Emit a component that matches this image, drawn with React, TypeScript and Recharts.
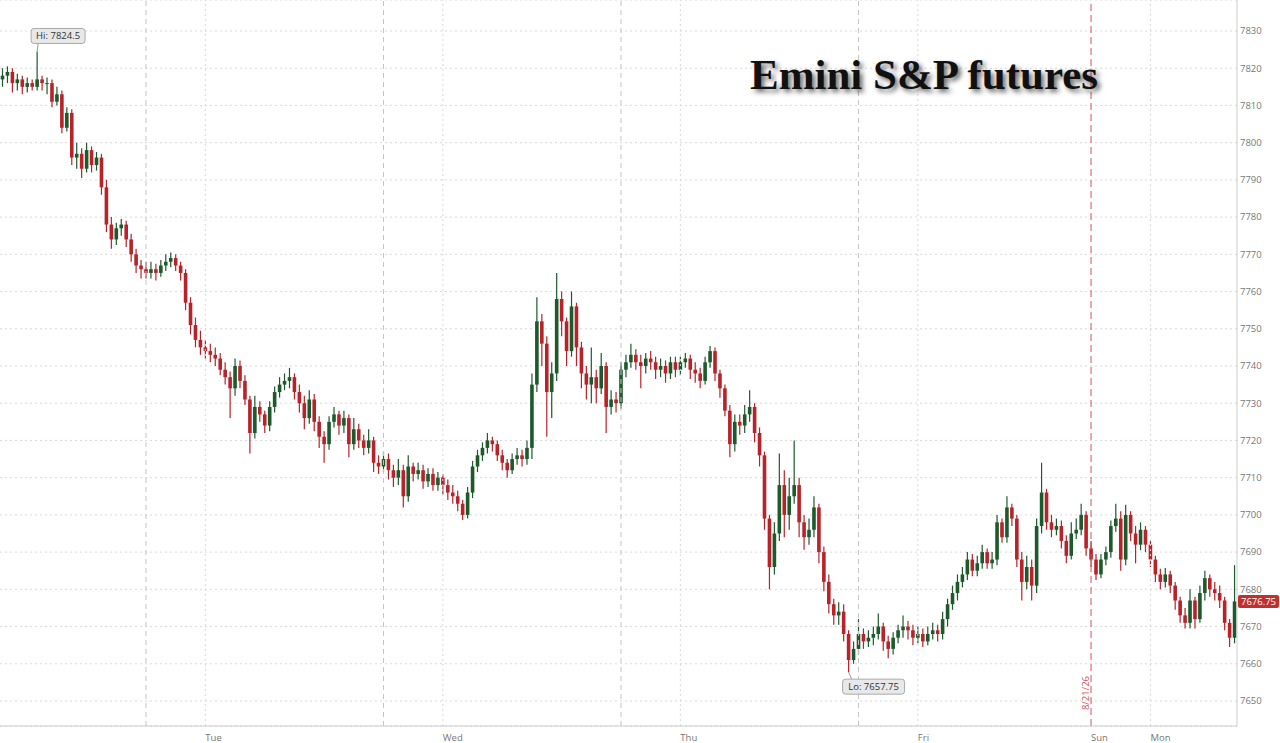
import {
  ComposedChart,
  Bar,
  CartesianGrid,
  ReferenceDot,
  ReferenceLine,
  XAxis,
  YAxis,
} from "recharts";

// 30-minute bars, Mon 03:30 through Mon after the weekend
const firstOpen = 7817;

const closes = [
  7818, 7819, 7816, 7817, 7815, 7816, 7815, 7817, 7816, 7816,
  7811, 7813, 7804, 7808, 7796, 7797, 7793, 7798, 7794, 7796,
  7788, 7778, 7774, 7777, 7778, 7774, 7770, 7767, 7766, 7765,
  7766, 7765, 7767, 7768, 7769, 7767, 7765, 7757, 7751, 7747,
  7745, 7744, 7743, 7742, 7739, 7737, 7734, 7740, 7736, 7731,
  7722, 7729, 7727, 7724, 7729, 7733, 7735, 7736, 7737, 7733,
  7730, 7726, 7731, 7725, 7721, 7719, 7725, 7727, 7724, 7726,
  7719, 7723, 7720, 7718, 7720, 7714, 7713, 7715, 7712, 7710,
  7712, 7705, 7713, 7711, 7712, 7709, 7711, 7708, 7710, 7708,
  7706, 7705, 7703, 7700, 7706, 7713, 7716, 7718, 7720, 7719,
  7716, 7714, 7712, 7715, 7716, 7715, 7718, 7735, 7752, 7746,
  7733, 7738, 7758, 7752, 7744, 7756, 7745, 7738, 7735, 7737,
  7734, 7740, 7729, 7731, 7730, 7739, 7741, 7743, 7741, 7740,
  7742, 7741, 7739, 7740, 7738, 7741, 7739, 7741, 7742, 7739,
  7738, 7736, 7741, 7744, 7738, 7734, 7728, 7719, 7725, 7724,
  7727, 7729, 7722, 7716, 7699, 7686, 7695, 7708, 7700, 7705,
  7708, 7698, 7694, 7696, 7702, 7690, 7682, 7676, 7673, 7674,
  7668, 7661, 7664, 7668, 7666, 7667, 7668, 7670, 7666, 7664,
  7667, 7669, 7670, 7669, 7667, 7668, 7666, 7668, 7669, 7668,
  7672, 7676, 7679, 7682, 7684, 7688, 7685, 7687, 7690, 7687,
  7688, 7698, 7694, 7702, 7699, 7688, 7682, 7686, 7681, 7697,
  7706, 7698, 7696, 7697, 7693, 7689, 7695, 7696, 7700, 7691,
  7688, 7684, 7688, 7690, 7697, 7699, 7688, 7700, 7695, 7692,
  7696, 7692, 7688, 7684, 7682, 7684, 7681, 7677, 7673, 7671,
  7677, 7672, 7679, 7683, 7680, 7679, 7677, 7671, 7667, 7676.75,
];

const highs = [
  7820, 7820.5, 7820, 7818.5, 7818, 7817.5, 7817, 7824.5, 7818, 7817.5,
  7817, 7815, 7814, 7809.5, 7809, 7800, 7798.5, 7800, 7799, 7797.5,
  7797, 7790, 7780, 7778.5, 7779.5, 7779, 7775.5, 7771.5, 7768.5, 7768,
  7768, 7767.5, 7768.5, 7770, 7770.5, 7770, 7768, 7766, 7758.5, 7753,
  7749.5, 7747, 7746, 7745, 7743.5, 7741, 7738.5, 7742, 7741.5, 7737.5,
  7732, 7732, 7730.5, 7728, 7730.5, 7734.5, 7737, 7738, 7739.5, 7738,
  7735, 7732, 7733.5, 7732.5, 7726.5, 7722.5, 7726.5, 7729, 7728, 7728,
  7727, 7726, 7724.5, 7721.5, 7723, 7721, 7716, 7717, 7716.5, 7713.5,
  7715, 7713.5, 7716, 7714, 7714, 7713.5, 7712.5, 7712.5, 7711.5, 7711,
  7709.5, 7708, 7706.5, 7704, 7707.5, 7714.5, 7717.5, 7719.5, 7722, 7721,
  7720, 7717.5, 7715, 7716.5, 7718, 7717.5, 7720, 7738, 7758.5, 7754,
  7748, 7741, 7765, 7760, 7753, 7760, 7757, 7746.5, 7740, 7745,
  7739, 7743.5, 7741, 7733.5, 7733, 7741, 7743, 7746, 7744.5, 7743,
  7743.5, 7744, 7742.5, 7742, 7741.5, 7742.5, 7742.5, 7742.5, 7743.5, 7743,
  7741, 7739.5, 7742.5, 7745.4, 7745, 7739, 7735, 7729.5, 7727, 7727,
  7729.5, 7733.5, 7730, 7723.5, 7717, 7700, 7698, 7716.5, 7712, 7710,
  7720, 7710, 7700, 7699, 7705, 7703, 7691.5, 7684, 7677.5, 7676.5,
  7676, 7669, 7666, 7672, 7669.5, 7669, 7670, 7673.5, 7671, 7667.5,
  7668.5, 7670.5, 7673, 7671.5, 7670.5, 7670, 7669.5, 7670, 7671, 7670.5,
  7674, 7677.5, 7681, 7684, 7686, 7690, 7689.5, 7689, 7692, 7691,
  7690, 7700, 7699, 7705, 7703, 7700, 7690, 7689, 7688, 7699,
  7714, 7707, 7700, 7699, 7698.5, 7694.5, 7698, 7699, 7703, 7701,
  7693, 7689.5, 7689.5, 7691.5, 7698.5, 7703, 7701, 7702.7, 7701, 7697,
  7698, 7697, 7693, 7689, 7685.5, 7685.7, 7685, 7682, 7678, 7675,
  7680, 7678, 7681, 7685, 7684, 7682, 7681, 7678, 7672, 7686.5,
];

const lows = [
  7815, 7816, 7813.5, 7814, 7813, 7813.5, 7814, 7814, 7814, 7813,
  7809.5, 7810, 7802.5, 7803, 7794, 7793, 7790.5, 7792, 7792, 7792.5,
  7786, 7776, 7771.5, 7772.5, 7775, 7772, 7768, 7765, 7763.5, 7763.5,
  7763.5, 7763, 7764, 7765.5, 7766.5, 7765.5, 7763, 7755, 7748.5, 7745,
  7743, 7742, 7741, 7740, 7737.5, 7735, 7726, 7732, 7734, 7729.5,
  7716.5, 7720.5, 7725, 7722, 7722.5, 7727.5, 7731.5, 7733.5, 7734, 7731,
  7727.5, 7723, 7724.5, 7722.5, 7718, 7714, 7717.5, 7723.5, 7721.5, 7722,
  7715.5, 7717.5, 7718, 7716, 7716.5, 7711.5, 7711, 7711.5, 7709.5, 7707.5,
  7708, 7702, 7703.5, 7709, 7709.5, 7707, 7707.5, 7706.5, 7706.5, 7705.5,
  7704, 7703, 7701, 7698.6, 7699, 7704.5, 7711.5, 7714.5, 7716.5, 7717,
  7714.5, 7712, 7710, 7711, 7713.5, 7713, 7713.5, 7715, 7733, 7740,
  7721, 7726, 7736, 7748, 7740, 7742.5, 7740, 7734, 7731, 7730,
  7730, 7732.5, 7722, 7727, 7727.5, 7728.5, 7737, 7739.5, 7739, 7734,
  7738, 7739, 7736.5, 7737, 7735.5, 7736.5, 7737, 7737.5, 7739.5, 7736.5,
  7735.5, 7734, 7735, 7739.5, 7736, 7731.5, 7726.5, 7715.5, 7717, 7721.5,
  7722, 7725, 7719.5, 7713, 7696, 7680, 7684, 7693, 7694, 7696,
  7703, 7694, 7690.6, 7692, 7694, 7687, 7679.5, 7673.5, 7670.5, 7670.5,
  7666, 7657.75, 7660, 7662.5, 7664, 7664.5, 7665, 7666.5, 7663.5, 7661.5,
  7662.5, 7665.5, 7667, 7666.5, 7665, 7665.5, 7664.5, 7665, 7666.5, 7666,
  7666.5, 7670, 7674.5, 7677, 7680.5, 7682.5, 7683.5, 7683.5, 7685.5, 7685.5,
  7685.5, 7686.5, 7692.5, 7692.5, 7697, 7686, 7677, 7680, 7677, 7679,
  7695, 7696, 7694, 7694.5, 7691, 7687, 7688, 7693.5, 7694.5, 7689,
  7686, 7682.5, 7683, 7686.5, 7688.5, 7695.5, 7685, 7686.5, 7693, 7687,
  7690.5, 7690, 7686, 7682, 7680, 7680.5, 7679, 7674.5, 7671, 7669.5,
  7669.5, 7669.5, 7671, 7677, 7678, 7677, 7675, 7669, 7664.5, 7665.5,
];

const dayTicks = [41, 89, 137, 185, 220, 232];
const dayLabels = ["Tue", "Wed", "Thu", "Fri", "Sun", "Mon"];
const sessionStarts = [29, 77, 125, 173];
const weekendBar = 220;
const weekendLabel = "8/21/26";
const priceTicks = [
  7650, 7660, 7670, 7680, 7690, 7700, 7710, 7720, 7730, 7740,
  7750, 7760, 7770, 7780, 7790, 7800, 7810, 7820, 7830,
];
const hiBar = 7;
const hiValue = 7824.5;
const loBar = 171;
const loValue = 7657.75;
const lastPrice = 7676.75;
const title = "Emini S&P futures";

const UP = "#1d5a2b";
const DOWN = "#b82329";
const GRID = "#d9d9d9";
const AXIS = "#cccccc";
const LABEL = "#777777";

const rows = closes.map((close, i) => ({
  i,
  open: i === 0 ? firstOpen : closes[i - 1],
  close,
  high: highs[i],
  low: lows[i],
  range: [lows[i], highs[i]],
}));

function Candle(props: any) {
  const { x, y, width, height, payload } = props;
  if (!payload) return null;
  const { open, close, high, low } = payload;
  const top = Math.min(y, y + height);
  const h = Math.abs(height);
  const k = h / (high - low || 1);
  const cx = x + width / 2;
  const bodyTop = top + (high - Math.max(open, close)) * k;
  const bodyH = Math.max(1, Math.abs(open - close) * k);
  const color = close >= open ? UP : DOWN;
  return (
    <g>
      <line x1={cx} x2={cx} y1={top} y2={top + h} stroke={color} strokeWidth={1.2} />
      <rect x={cx - 1.8} y={bodyTop} width={3.6} height={bodyH} fill={color} />
    </g>
  );
}

function DayTick({ x, y, payload }: any) {
  const k = dayTicks.indexOf(payload.value);
  return (
    <text x={x} y={y + 13} fontSize={9.5} fill={LABEL} textAnchor="start">
      {dayLabels[k]}
    </text>
  );
}

function HiTag({ cx, cy }: any) {
  return (
    <g>
      <line x1={cx} y1={cy} x2={cx + 1} y2={cy - 8} stroke="#999" />
      <rect x={cx - 6} y={cy - 23} width={54} height={15} rx={3} fill="#e8e8e8" stroke="#aaa" />
      <text x={cx + 21} y={cy - 15.5} textAnchor="middle" dominantBaseline="central" fontSize={9.5} fill="#333">
        {`Hi: ${hiValue}`}
      </text>
    </g>
  );
}

function LoTag({ cx, cy }: any) {
  return (
    <g>
      <line x1={cx} y1={cy} x2={cx + 3} y2={cy + 7} stroke="#999" />
      <rect x={cx - 6} y={cy + 7} width={62} height={15} rx={3} fill="#e8e8e8" stroke="#aaa" />
      <text x={cx + 25} y={cy + 14.5} textAnchor="middle" dominantBaseline="central" fontSize={9.5} fill="#333">
        {`Lo: ${loValue}`}
      </text>
    </g>
  );
}

function PriceTag({ viewBox }: any) {
  const x = viewBox.x + viewBox.width + 1;
  const y = viewBox.y;
  return (
    <g>
      <rect x={x} y={y - 6.5} width={41} height={13} rx={2} fill="#c0302f" />
      <text x={x + 20.5} y={y} textAnchor="middle" dominantBaseline="central" fontSize={9.5} fill="#fff">
        {lastPrice}
      </text>
    </g>
  );
}

function WeekendTag({ viewBox }: any) {
  const x = viewBox.x - 5.5;
  const y = 693;
  return (
    <text
      x={x}
      y={y}
      transform={`rotate(-90 ${x} ${y})`}
      textAnchor="middle"
      dominantBaseline="central"
      fontSize={9.5}
      fill="#c85a64"
    >
      {weekendLabel}
    </text>
  );
}

export default function App() {
  return (
    <div style={{ position: "relative", width: 1280, height: 743, fontFamily: "'Open Sans', sans-serif", background: "#fff" }}>
      <style>{"body{margin:0}"}</style>
      <ComposedChart
        width={1280}
        height={743}
        data={rows}
        margin={{ top: 0, right: 0, bottom: 0, left: 0 }}
        barCategoryGap={0}
      >
        <CartesianGrid vertical={false} stroke={GRID} strokeDasharray="2 3" />
        <XAxis
          dataKey="i"
          type="category"
          ticks={dayTicks}
          interval={0}
          tick={<DayTick />}
          tickLine={false}
          tickSize={0}
          axisLine={{ stroke: AXIS }}
          height={17}
        />
        <YAxis
          orientation="right"
          type="number"
          domain={[7643.28, 7838.33]}
          allowDataOverflow
          ticks={priceTicks}
          interval={0}
          width={43}
          tickLine={false}
          tickSize={1}
          tickMargin={2}
          axisLine={{ stroke: AXIS }}
          tick={{ fontSize: 9.5, fill: LABEL }}
        />
        {dayTicks
          .filter((d) => d !== weekendBar)
          .map((d) => (
            <ReferenceLine key={`d${d}`} x={d} stroke={GRID} strokeDasharray="2 3" />
          ))}
        {sessionStarts.map((s) => (
          <ReferenceLine key={`s${s}`} x={s} stroke="#c4c4c4" strokeDasharray="5 4" />
        ))}
        <ReferenceLine x={weekendBar} stroke="#dc4f5c" strokeDasharray="7 4" label={WeekendTag} />
        <Bar dataKey="range" shape={Candle} isAnimationActive={false} />
        <ReferenceDot x={hiBar} y={hiValue} ifOverflow="visible" shape={HiTag} />
        <ReferenceDot x={loBar} y={loValue} ifOverflow="visible" shape={LoTag} />
        <ReferenceLine y={lastPrice} stroke="none" ifOverflow="visible" label={PriceTag} />
      </ComposedChart>
      <div
        style={{
          position: "absolute",
          left: 750,
          top: 53,
          fontFamily: "'Liberation Serif', 'Times New Roman', serif",
          fontWeight: "bold",
          fontSize: 43,
          lineHeight: 1,
          color: "#111",
          whiteSpace: "nowrap",
          textShadow: "3px 3px 5px rgba(0,0,0,0.6)",
          pointerEvents: "none",
        }}
      >
        {title}
      </div>
    </div>
  );
}
